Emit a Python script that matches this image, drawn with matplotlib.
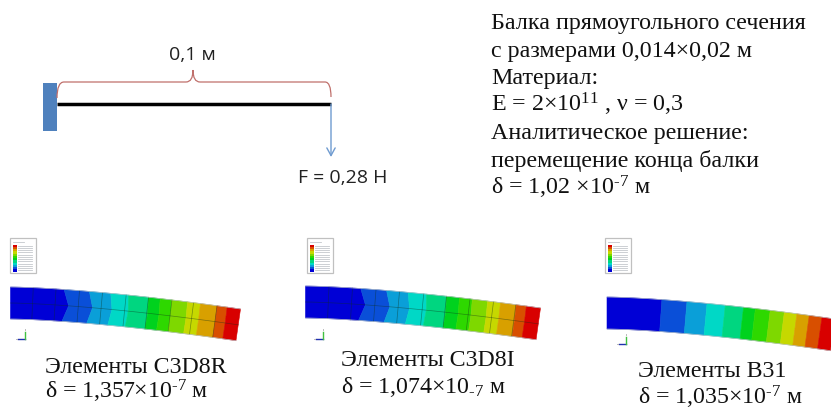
import numpy as np
import matplotlib
matplotlib.use("Agg")
import matplotlib.pyplot as plt
from matplotlib.patches import Rectangle, Polygon
from matplotlib.path import Path
from matplotlib.patches import PathPatch

plt.rcParams['mathtext.fontset'] = 'custom'
plt.rcParams['mathtext.rm'] = 'Liberation Serif'
plt.rcParams['mathtext.it'] = 'Liberation Serif'
plt.rcParams['mathtext.default'] = 'regular'

SERIF = 'Liberation Serif'
SANS = 'Open Sans'

# ---- text content
info_lines = ["Балка прямоугольного сечения", "с размерами 0,014×0,02 м", "Материал:",
              "E = 2×10$^{11}$ , ν = 0,3", "Аналитическое решение:",
              "перемещение конца балки", r"δ = 1,02 ×10$^{\text{-}7}$ м"]
info_y = [29, 56.7, 84.3, 111, 139, 166.7, 194.3]
length_label = "0,1 м"
force_label = "F = 0,28 Н"

captions = [("Элементы C3D8R", r"δ = 1,357×10$^{\text{-}7}$ м"),
            ("Элементы C3D8I", r"δ = 1,074×10$_{\text{-}7}$ м"),
            ("Элементы B31", r"δ = 1,035×10$^{\text{-}7}$ м")]
caption_x = [45, 341, 638]
caption_y = [(373, 398.3), (366, 393.3), (376.7, 405)]

# ---- contour colours and band limits (fraction of beam length)
band_colors = ['#0000d6', '#0a4fd8', '#0a9fd8', '#00d8c6', '#00d680', '#00d21e',
               '#2ed800', '#7ed800', '#c6d800', '#d8a000', '#d84f00', '#d80000']
bands_c3d8r = [.233, .343, .436, .513, .600, .651, .702, .770, .826, .898, .942]
bands_c3d8i = [.235, .345, .437, .515, .600, .655, .710, .775, .830, .897, .940]
bands_b31 = [.241, .351, .439, .519, .599, .651, .716, .778, .833, .887, .943]
kink_solid = [.025, .02, .012, .006, .004, .003, .002, .002, .001, .001, .001]
kink_beam = [0] * 11

# ---- beam geometry: left x, top-left y, length, tip drop, height
beam_x = [10.5, 305.5, 607]
beam_y = [288, 287, 298]
beam_len = [230, 235, 228]
beam_drop = [22, 22, 22]
beam_h = [32, 32, 32]
mesh_t_c3d8r = [.099, .198, .30, .40, .503, .60, .702, .796, .898]
mesh_t_c3d8i = [.10, .2, .30, .40, .503, .60, .70, .80, .895]

# ---- legend box positions
legend_x = [10, 307, 605]
legend_y = [239, 239, 239]
triad_x = [18, 316, 619]
triad_y = [340, 340, 345]

fig = plt.figure(figsize=(8.31, 4.10), dpi=100)
ax = fig.add_axes([0, 0, 1, 1])
ax.set_xlim(0, 831)
ax.set_ylim(410, 0)
ax.axis('off')


def beam_point(b, t, s):
    """t along the beam, s across it (0 top, 1 bottom)."""
    x0, y0, L, D, h = beam_x[b], beam_y[b], beam_len[b], beam_drop[b], beam_h[b]
    t = np.asarray(t, float)
    s = np.asarray(s, float)
    slope = 1.5 * D * np.sqrt(t) / L
    n = np.hypot(1, slope)
    return x0 + L * t - s * h * slope / n, y0 + D * t ** 1.5 + s * h / n


def band_edge(b, limit, kink):
    s = np.array([0, .5, 1])
    t = np.array([limit, limit + kink, limit])
    return beam_point(b, t, s)


def draw_beam(b, limits, kinks, mesh):
    lim = [0.0] + list(limits) + [1.0]
    kk = [0.0] + list(kinks) + [0.0]
    for i, col in enumerate(band_colors):
        tt = np.linspace(lim[i], lim[i + 1], 12)
        xt, yt = beam_point(b, tt, 0)
        xb, yb = beam_point(b, tt, 1)
        xr, yr = band_edge(b, lim[i + 1], kk[i + 1])
        xl, yl = band_edge(b, lim[i], kk[i])
        xs = np.r_[xt, xr[1], xb[::-1], xl[1]]
        ys = np.r_[yt, yr[1], yb[::-1], yl[1]]
        ax.add_patch(Polygon(np.c_[xs, ys], closed=True, fc=col, ec=col, lw=.4, zorder=2))
    for m in mesh:
        xm, ym = beam_point(b, [m, m], [0, 1])
        ax.plot(xm, ym, color='#10301a', lw=.5, alpha=.45, zorder=3)
    if mesh:
        tt = np.linspace(0, 1, 40)
        xm, ym = beam_point(b, tt, .5)
        ax.plot(xm, ym, color='#10301a', lw=.5, alpha=.45, zorder=3)
    tt = np.linspace(0, 1, 40)
    for s in (0, 1):
        xe, ye = beam_point(b, tt, s)
        ax.plot(xe, ye, color='#b8c0c8', lw=.5, zorder=3)


def draw_legend(b):
    x, y = legend_x[b], legend_y[b]
    ax.add_patch(Rectangle((x, y), 26, 35, fc='white', ec='#c0c0c0', lw=.9, zorder=2))
    for i, col in enumerate(band_colors[::-1]):
        yy = y + 6.5 + i * 2.25
        ax.add_patch(Rectangle((x + 3, yy), 3.5, 2.25, fc=col, ec='none', zorder=3))
        ax.plot([x + 7.5, x + 21.5], [yy + 1, yy + 1], color='#c4c8cc', lw=.6, zorder=3)
    ax.plot([x + 3, x + 14], [y + 4, y + 4], color='#c4c8cc', lw=.6, zorder=3)


def draw_triad(b):
    x, y = triad_x[b], triad_y[b]
    ax.plot([x, x + 7], [y, y], color='#2030b0', lw=1, zorder=3)
    ax.plot([x + 7, x + 7], [y, y - 7], color='#40c040', lw=1, zorder=3)
    ax.plot([x - 2.5, x - 1.5], [y, y], color='#aaaaaa', lw=.6, zorder=3)
    ax.plot([x + 7, x + 7], [y - 10, y - 9], color='#aaaaaa', lw=.6, zorder=3)


# --- cantilever sketch
ax.add_patch(Rectangle((43, 84), 14, 48, fc='#4f81bd', ec='none', zorder=2))
ax.plot([57, 331], [105, 105], color='black', lw=2.5, solid_capstyle='butt', zorder=3)
verts = [(57, 99), (57, 83), (64, 83), (186, 83), (193, 83), (193, 71),
         (193, 83), (200, 83), (325, 83), (331, 83), (331, 98)]
codes = [Path.MOVETO, Path.CURVE3, Path.CURVE3, Path.LINETO, Path.CURVE3, Path.CURVE3,
         Path.CURVE3, Path.CURVE3, Path.LINETO, Path.CURVE3, Path.CURVE3]
ax.add_patch(PathPatch(Path(verts, codes), fc='none', ec='#c0706c', lw=.9, zorder=3))
ax.annotate('', xy=(331, 158), xytext=(331, 105),
            arrowprops=dict(arrowstyle='->,head_width=.3,head_length=.55', color='#6f9bd0', lw=1,
                            shrinkA=0, shrinkB=0), zorder=3)
ax.text(192, 55, length_label, family=SANS, fontsize=14, color='#222222', ha='center', va='center')
ax.text(342.5, 178, force_label, family=SANS, fontsize=14, color='#222222', ha='center', va='center')

# --- info block
for line, y in zip(info_lines, info_y):
    ax.text(491, y, line, family=SERIF, fontsize=17.3, color='#111111', ha='left', va='baseline')

# --- beams
draw_beam(0, bands_c3d8r, kink_solid, mesh_t_c3d8r)
draw_beam(1, bands_c3d8i, kink_solid, mesh_t_c3d8i)
draw_beam(2, bands_b31, kink_beam, [])
for b in range(3):
    draw_legend(b)
    draw_triad(b)
    (l1, l2), (y1, y2) = captions[b], caption_y[b]
    ax.text(caption_x[b], y1, l1, family=SERIF, fontsize=17.2, color='#111111', ha='left', va='baseline')
    ax.text(caption_x[b], y2, l2, family=SERIF, fontsize=17.2, color='#111111', ha='left', va='baseline')

fig.savefig('out.png', dpi=100)
